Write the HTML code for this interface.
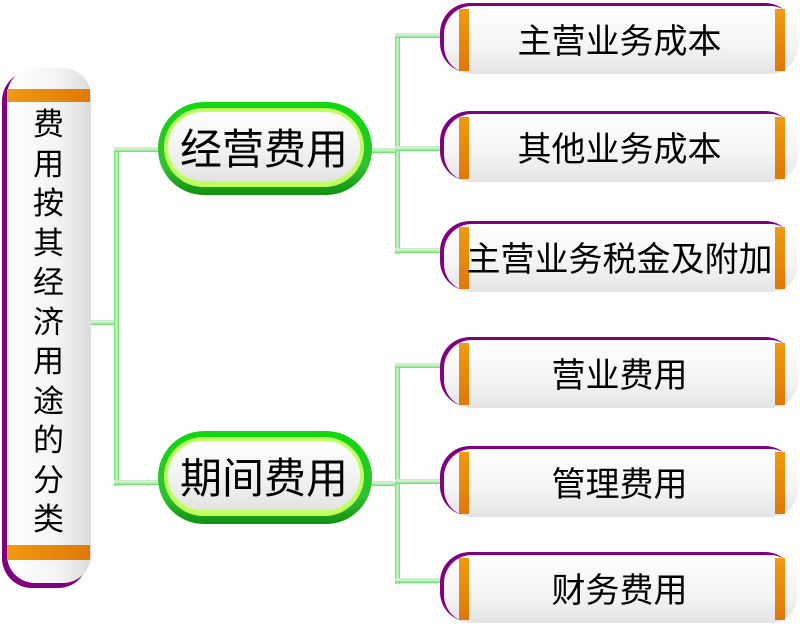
<!DOCTYPE html>
<html><head><meta charset="utf-8"><style>
body{margin:0;width:800px;height:632px;background:#fff;position:relative;overflow:hidden;font-family:"Liberation Sans","Noto Sans CJK SC",sans-serif;}
.a{position:absolute;}
.ln{position:absolute;background:linear-gradient(90deg,#5ce65c,#d8f0d8 50%,#5ce65c);}
.lh{position:absolute;height:5px;background:linear-gradient(180deg,#c8ecc8,#d8f0d8 40%,#5ce65c);}
.rb{position:absolute;left:440px;width:355px;height:70px;border-radius:30px;background:#800080;}
.rb .in{position:absolute;left:4px;top:3px;right:-3px;bottom:-1px;border-radius:28px;background:linear-gradient(180deg,#fff,#f4f4f4 60%,#e4e4e4);}
.rb .o1,.rb .o2{position:absolute;top:6px;bottom:2px;width:10px;background:linear-gradient(180deg,#f09a10,#e07808);}
.rb .o1{left:19px}.rb .o2{right:10px}
.rb .t{position:absolute;left:0;right:0;top:0;bottom:0;display:flex;align-items:center;justify-content:center;font-size:34px;color:#000;padding-left:4px;}
.mb{position:absolute;left:158px;width:214px;height:93px;border-radius:46px;background:linear-gradient(180deg,#10d810,#30c030 70%,#109010);}
.mb .in{position:absolute;left:6px;top:6px;right:8px;bottom:8px;border-radius:40px;background:#c0ff60;}
.mb .in2{position:absolute;left:10px;top:10px;right:12px;bottom:14px;border-radius:36px;background:linear-gradient(180deg,#fff,#f0f0f0 60%,#e4e4e4);display:flex;align-items:center;justify-content:center;font-size:42px;}
</style></head><body>
<div class="lh" style="left:90px;top:320px;width:28px"></div>
<div class="ln" style="left:114px;top:148px;width:5px;height:338px"></div>
<div class="lh" style="left:114px;top:147px;width:46px"></div>
<div class="lh" style="left:114px;top:480px;width:46px"></div>
<div class="lh" style="left:370px;top:148px;width:30px"></div>
<div class="ln" style="left:395px;top:34px;width:5px;height:220px"></div>
<div class="lh" style="left:395px;top:33px;width:47px"></div>
<div class="lh" style="left:395px;top:146px;width:47px"></div>
<div class="lh" style="left:395px;top:248px;width:47px"></div>
<div class="lh" style="left:370px;top:481px;width:30px"></div>
<div class="ln" style="left:395px;top:364px;width:5px;height:220px"></div>
<div class="lh" style="left:395px;top:363px;width:47px"></div>
<div class="lh" style="left:395px;top:479px;width:47px"></div>
<div class="lh" style="left:395px;top:578px;width:47px"></div>
<div class="a" style="left:2px;top:71px;width:86px;height:517px;border-radius:30px;background:#800080"></div>
<div class="a" style="left:7px;top:68px;width:84px;height:515px;border-radius:28px;background:linear-gradient(90deg,#fff,#f4f4f4 60%,#dcdcdc)"></div>
<div class="a" style="left:7px;top:89px;width:83px;height:13px;background:linear-gradient(90deg,#f09a10,#e07808)"></div>
<div class="a" style="left:7px;top:545px;width:83px;height:15px;background:linear-gradient(90deg,#f09a10,#e07808)"></div>
<div class="a" style="left:7px;top:105px;width:83px;font-size:31px;line-height:39.5px;text-align:center">费<br>用<br>按<br>其<br>经<br>济<br>用<br>途<br>的<br>分<br>类</div>
<div class="mb" style="top:102px"><div class="in"></div><div class="in2">经营费用</div></div>
<div class="mb" style="top:431px"><div class="in"></div><div class="in2">期间费用</div></div>
<div class="rb" style="top:3px"><div class="in"></div><div class="o1"></div><div class="o2"></div><div class="t">主营业务成本</div></div>
<div class="rb" style="top:111px"><div class="in"></div><div class="o1"></div><div class="o2"></div><div class="t">其他业务成本</div></div>
<div class="rb" style="top:221px"><div class="in"></div><div class="o1"></div><div class="o2"></div><div class="t">主营业务税金及附加</div></div>
<div class="rb" style="top:337px"><div class="in"></div><div class="o1"></div><div class="o2"></div><div class="t">营业费用</div></div>
<div class="rb" style="top:446px"><div class="in"></div><div class="o1"></div><div class="o2"></div><div class="t">管理费用</div></div>
<div class="rb" style="top:552px"><div class="in"></div><div class="o1"></div><div class="o2"></div><div class="t">财务费用</div></div>
</body></html>
